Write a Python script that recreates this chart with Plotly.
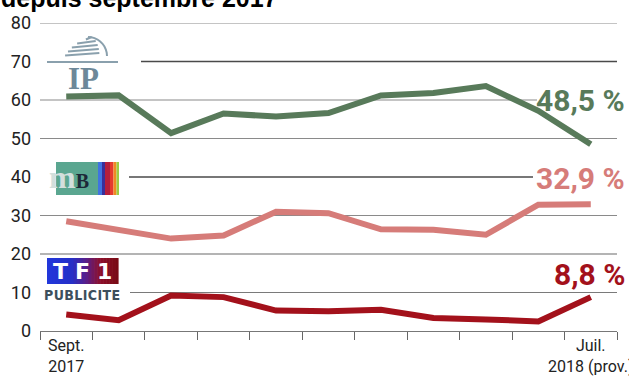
import plotly.graph_objects as go
import math

# ---------------- data ----------------
months = ["Sept. 2017", "Oct.", "Nov.", "Déc.", "Janv.", "Févr.", "Mars", "Avr.", "Mai", "Juin", "Juil. 2018 (prov.)"]
ip_values = [60.9, 61.2, 51.4, 56.5, 55.7, 56.6, 61.2, 61.8, 63.6, 57.2, 48.5]
mb_values = [28.5, 26.3, 24.0, 24.8, 31.0, 30.6, 26.4, 26.3, 25.0, 32.8, 32.9]
tf1_values = [4.3, 2.8, 9.2, 8.8, 5.3, 5.1, 5.5, 3.4, 3.0, 2.5, 8.8]
end_labels = ["48,5 %", "32,9 %", "8,8 %"]
y_ticks = [0, 10, 20, 30, 40, 50, 60, 70, 80]
x_ticktext = ["Sept.<br>2017", "Juil.<br>2018 (prov.)"]
title_text = "depuis septembre 2017"

GREEN = "#587a5a"
PINK = "#d67c79"
RED = "#a3111b"
NARROW = "Roboto, Liberation Sans Narrow, DejaVu Sans Condensed, sans-serif"

W, H = 629, 376
L, R, T, B = 40, 12, 23, 45
PW, PH = W - L - R, H - T - B
n = len(months)


def X(px):
    return (px - L) / PW * n - 0.5


def Y(py):
    return (H - B - py) / PH * 80


def XP(px):
    return (px - L) / PW


xs = list(range(n))
fig = go.Figure()
for vals, col in [(ip_values, GREEN), (mb_values, PINK), (tf1_values, RED)]:
    fig.add_trace(go.Scatter(x=xs, y=vals, mode="lines",
                             line=dict(color=col, width=6), hoverinfo="skip", showlegend=False))

shapes = []
grid_spec = {80: (40, 617, "#8a8a8a", 1.2), 70: (141, 617, "#4a4a4a", 1.6), 60: (40, 537, "#8a8a8a", 1.2),
             50: (40, 617, "#8a8a8a", 1.2), 40: (129, 533, "#4a4a4a", 1.6), 30: (40, 617, "#8a8a8a", 1.2),
             20: (40, 617, "#6a6a6a", 1.2), 10: (130, 617, "#7a7a7a", 1.2)}
for v in y_ticks:
    if v in grid_spec:
        x0, x1, c, w = grid_spec[v]
        shapes.append(dict(type="line", xref="x", yref="y", x0=X(x0), x1=X(x1), y0=v, y1=v,
                           line=dict(color=c, width=w), layer="below"))


def rect(x0, y0, x1, y1, color):
    shapes.append(dict(type="rect", xref="x", yref="y", x0=X(x0), x1=X(x1), y0=Y(y1), y1=Y(y0),
                       fillcolor=color, line=dict(width=0), layer="above"))


def path(pts, color, width):
    d = "M " + " L ".join(f"{X(a)},{Y(b)}" for a, b in pts)
    shapes.append(dict(type="path", xref="x", yref="y", path=d,
                       line=dict(color=color, width=width), layer="above"))


# ---- IP logo ----
path([(47, 62), (118, 62)], "#8aa0ad", 1.8)
cx, cy, r = 88, 56, 19
arc = [(cx + r * math.cos(math.radians(a)), cy - r * math.sin(math.radians(a))) for a in range(0, 100, 10)]
path(arc, "#8aa0ad", 2)
for i, dy in enumerate([2, 6, 10, 14, 18]):
    yy = cy - dy
    half = math.sqrt(max(r * r - dy * dy, 0))
    path([(cx - half - 4 + i * 2, yy + 1.5), (cx + half * 0.6, yy - 1)], "#8aa0ad", 2.2)

# ---- MB logo ----
rect(56, 162, 98, 195, "#5aa690")
for (a, b, c) in [(98, 102, "#3f74e0"), (102, 105, "#3a2f9a"), (105, 110, "#b51f3c"),
                  (110, 113.5, "#e53a2e"), (113.5, 116.5, "#f08a22"), (116.5, 119, "#9ccc44")]:
    rect(a, 162, b, 195, c)

# ---- TF1 logo gradient ----
stops = [(0.0, (0x22, 0x38, 0xdc)), (0.35, (0x26, 0x30, 0xc8)), (0.55, (0x5a, 0x1f, 0x8a)),
         (0.75, (0x8d, 0x0f, 0x2a)), (1.0, (0x78, 0x0a, 0x14))]


def grad(t):
    for (t0, c0), (t1, c1) in zip(stops[:-1], stops[1:]):
        if t <= t1:
            f = (t - t0) / (t1 - t0)
            return "rgb(%d,%d,%d)" % tuple(int(c0[k] + (c1[k] - c0[k]) * f) for k in range(3))
    return "rgb(%d,%d,%d)" % stops[-1][1]


NS = 24
for i in range(NS):
    a = 47 + (118 - 47) * i / NS
    b = 47 + (118 - 47) * (i + 1) / NS + 0.6
    rect(a, 258, b, 284, grad((i + 0.5) / NS))

annotations = []


def ann(text, px, py, size, color, family, xanchor="center", yanchor="middle", bold=False):
    annotations.append(dict(text=("<b>%s</b>" % text) if bold else text, x=XP(px), y=Y(py), xref="paper", yref="y",
                            showarrow=False, xanchor=xanchor, yanchor=yanchor,
                            font=dict(size=size, color=color, family=family)))


ann("IP", 83, 78, 31, "#6d8899", "Liberation Serif, DejaVu Serif, serif", bold=True)
ann('<span style="font-size:32px;color:#d3dfdc">m</span><span style="color:#1d2838">B</span>',
    69, 177, 20, "#1d2838", "Liberation Serif, DejaVu Serif, serif", bold=True)
ann('<span style="letter-spacing:7px">TF1</span>', 86, 271, 22, "white", "DejaVu Sans, sans-serif", bold=True)
ann('<span style="letter-spacing:0.4px">PUBLICITE</span>', 82.5, 295, 14, "#3d4f5c",
    "DejaVu Sans Condensed, Liberation Sans Narrow, sans-serif", bold=True)

# end labels
for lab, py, col in zip(end_labels, [100, 178, 274], [GREEN, PINK, RED]):
    ann(lab, 627, py, 30, col, NARROW, xanchor="right", bold=True)

# cropped title at top (the reference shows it cut by the top edge)
annotations.append(dict(text="<b>%s</b>" % title_text, x=-L / PW - 0.002, y=(H - B + 2) / PH,
                        xref="paper", yref="paper", showarrow=False, xanchor="left", yanchor="middle",
                        font=dict(size=25, color="black", family="Liberation Sans, Arial, sans-serif")))

fig.update_layout(
    width=W, height=H, margin=dict(l=L, r=R, t=T, b=B),
    paper_bgcolor="white", plot_bgcolor="white",
    shapes=shapes, annotations=annotations,
    xaxis=dict(range=[-0.5, n - 0.5], tickmode="array", tickvals=[0, n - 1], ticktext=x_ticktext,
               ticks="", showgrid=False, zeroline=False, showline=True, linecolor="#777", linewidth=1.2,
               automargin=False, ticklabeloverflow="allow",
               tickfont=dict(size=16, color="#222", family=NARROW),
               minor=dict(tickmode="array", tickvals=[i - 0.5 for i in range(n + 1)], ticks="outside",
                          ticklen=8, tickcolor="#666", tickwidth=1.2, showgrid=False)),
    yaxis=dict(range=[0, 80], tickmode="array", tickvals=y_ticks, ticks="", showgrid=False,
               zeroline=False, showline=False, ticklabelstandoff=8, automargin=False,
               tickfont=dict(size=18, color="#222", family=NARROW)),
)

fig.write_html("out.html")
